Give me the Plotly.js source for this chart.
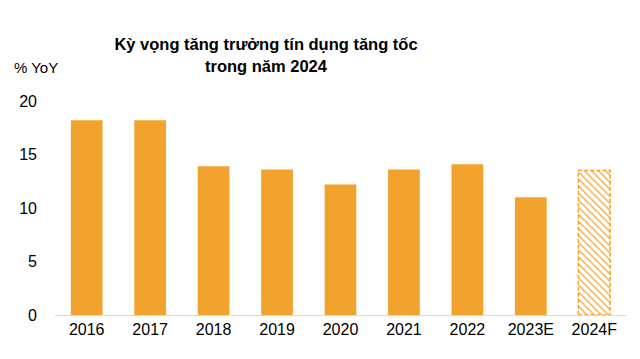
<!DOCTYPE html>
<html><head><meta charset="utf-8">
<script src="https://cdn.plot.ly/plotly-3.0.1.min.js"></script>
<style>html,body{margin:0;padding:0;background:#fff}#chart{width:640px;height:359px}</style>
</head><body><div id="chart"></div>
<script>
const categories = ["2016","2017","2018","2019","2020","2021","2022","2023E","2024F"];
const creditGrowth = [18.2, 18.2, 13.9, 13.6, 12.2, 13.6, 14.1, 11.0, 13.5];
const forecastFlags = [false,false,false,false,false,false,false,false,true];
const yTicks = [0,5,10,15,20];

const orange = "#F2A32E";
const actX = [], actY = [], fcX = [], fcY = [];
categories.forEach((c,i)=>{ if(forecastFlags[i]){fcX.push(c);fcY.push(creditGrowth[i]);} else {actX.push(c);actY.push(creditGrowth[i]);} });

const traces = [
  {type:"bar", x:actX, y:actY, marker:{color:orange, line:{width:0}}, hoverinfo:"x+y"},
  {type:"bar", x:fcX, y:fcY, marker:{color:"#ffffff", line:{width:0},
     pattern:{shape:"\\", fgcolor:orange, bgcolor:"#ffffff", size:5, solidity:0.25}}, hoverinfo:"x+y"}
];

const shapes = [];
categories.forEach((c,i)=>{ if(forecastFlags[i]){
  shapes.push({type:"rect", xref:"x", yref:"y", x0:i-0.25, x1:i+0.25, y0:0, y1:creditGrowth[i],
    line:{color:orange, width:1.5, dash:"4px,2px"}, fillcolor:"rgba(0,0,0,0)", layer:"above"});
}});

const layout = {
  width:640, height:359,
  margin:{l:55, r:14, t:101, b:44},
  paper_bgcolor:"#fff", plot_bgcolor:"#fff",
  showlegend:false, barmode:"overlay", bargap:0.5,
  font:{family:"Liberation Sans, Arial, sans-serif", color:"#000"},
  title:{text:"<b>Kỳ vọng tăng trưởng tín dụng tăng tốc<br>trong năm 2024</b>",
    x:266/640, xref:"container", xanchor:"center", y:0.86, yref:"container", yanchor:"top",
    font:{size:16.5, color:"#000", family:"Liberation Sans, Arial, sans-serif"}},
  xaxis:{type:"category", categoryarray:categories, categoryorder:"array",
    showline:true, linecolor:"#d9d9d9", linewidth:1, showgrid:false, zeroline:false,
    ticks:"", tickfont:{size:16, color:"#000"}, range:[-0.5, 8.5]},
  yaxis:{range:[0,20], tickvals:yTicks, ticktext:yTicks.map(String), showgrid:false, zeroline:false,
    showline:false, ticks:"", ticklabelstandoff:17, tickfont:{size:16, color:"#000"}},
  annotations:[{text:"% YoY", xref:"paper", yref:"paper", x:-0.075, y:1.155, xanchor:"left", yanchor:"middle",
    showarrow:false, font:{size:15, color:"#000"}}],
  shapes:shapes
};
Plotly.newPlot("chart", traces, layout, {displayModeBar:false, staticPlot:true});
</script></body></html>
